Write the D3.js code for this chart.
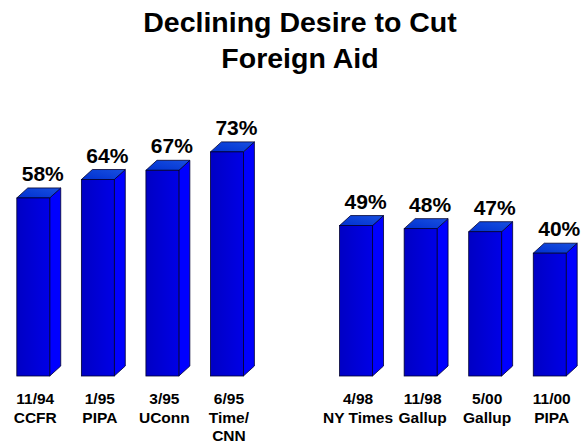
<!DOCTYPE html>
<html>
<head>
<meta charset="utf-8">
<script src="https://cdn.jsdelivr.net/npm/d3@7"></script>
<style>
  html, body { margin: 0; padding: 0; background: #ffffff; }
  svg { display: block; }
  text { font-family: "Liberation Sans", Arial, Helvetica, sans-serif; font-weight: bold; fill: #000; }
</style>
</head>
<body>
<div id="chart"></div>
<script>
// Poll dates, sponsoring organisations and share wanting to cut foreign aid (%)
const dates   = ["11/94", "1/95", "3/95", "6/95", "4/98", "11/98", "5/00", "11/00"];
const sources = [["CCFR"], ["PIPA"], ["UConn"], ["Time/", "CNN"], ["NY Times"], ["Gallup"], ["Gallup"], ["PIPA"]];
const values  = [58, 64, 67, 73, 49, 48, 47, 40];
const titleLines = ["Declining Desire to Cut", "Foreign Aid"];

const W = 582, H = 443;
const depthX = 11, depthY = 10;   // oblique offset of the 3D bar faces

const svg = d3.select("#chart").append("svg")
  .attr("width", W).attr("height", H);

const defs = svg.append("defs");
const frontGrad = defs.append("linearGradient").attr("id", "front").attr("x1", 0).attr("x2", 1).attr("y1", 0).attr("y2", 0);
frontGrad.append("stop").attr("offset", "0%").attr("stop-color", "#0000c4");
frontGrad.append("stop").attr("offset", "100%").attr("stop-color", "#0000e6");
const topGrad = defs.append("linearGradient").attr("id", "topface").attr("x1", 0).attr("x2", 1).attr("y1", 1).attr("y2", 0);
topGrad.append("stop").attr("offset", "0%").attr("stop-color", "#0030d0");
topGrad.append("stop").attr("offset", "100%").attr("stop-color", "#1850e0");

// Two groups of bars with an empty slot between them
const keys = [...dates.slice(0, 4), "gap", ...dates.slice(4)];
const x = d3.scaleBand().domain(keys).range([1, 582]).paddingInner(0.49).paddingOuter(0.245);
const y = d3.scaleLinear().domain([0, 100]).range([376, 69]);

const rows = dates.map((d, i) => ({ date: d, source: sources[i], value: values[i] }));

// Title
svg.append("text")
  .attr("x", 300).attr("y", 32)
  .attr("text-anchor", "middle")
  .style("font-size", "28.5px")
  .selectAll("tspan").data(titleLines).join("tspan")
  .attr("x", 300)
  .attr("dy", (d, i) => i === 0 ? 0 : 36)
  .text(d => d);

const bars = svg.append("g").selectAll("g").data(rows).join("g");
const bw = x.bandwidth();

// Side face
bars.append("path")
  .attr("d", d => {
    const x1 = x(d.date) + bw, yt = y(d.value), yb = y(0);
    return `M${x1},${yt} L${x1 + depthX},${yt - depthY} L${x1 + depthX},${yb - depthY} L${x1},${yb} Z`;
  })
  .attr("fill", "#0000ff").attr("stroke", "#000030").attr("stroke-width", 0.8).attr("stroke-linejoin", "round");

// Top face
bars.append("path")
  .attr("d", d => {
    const x0 = x(d.date), yt = y(d.value);
    return `M${x0},${yt} L${x0 + depthX},${yt - depthY} L${x0 + bw + depthX},${yt - depthY} L${x0 + bw},${yt} Z`;
  })
  .attr("fill", "url(#topface)").attr("stroke", "#000030").attr("stroke-width", 0.8).attr("stroke-linejoin", "round");

// Front face
bars.append("rect")
  .attr("x", d => x(d.date))
  .attr("y", d => y(d.value))
  .attr("width", bw)
  .attr("height", d => y(0) - y(d.value))
  .attr("fill", "url(#front)").attr("stroke", "#000030").attr("stroke-width", 0.8);

// Value labels
bars.append("text")
  .attr("x", d => x(d.date) + (bw + depthX) / 2 + 4)
  .attr("y", d => y(d.value) - depthY - 7)
  .attr("text-anchor", "middle")
  .style("font-size", "21px")
  .text(d => d.value + "%");

// Category labels: date, then source on following lines
const cat = bars.append("text")
  .attr("text-anchor", "middle")
  .style("font-size", "15.5px");
cat.selectAll("tspan")
  .data(d => [d.date, ...d.source].map(t => ({ t, cx: x(d.date) + bw / 2 + 2 })))
  .join("tspan")
  .attr("x", d => d.cx)
  .attr("y", (d, i) => 404 + i * 18.5)
  .text(d => d.t);
</script>
</body>
</html>
